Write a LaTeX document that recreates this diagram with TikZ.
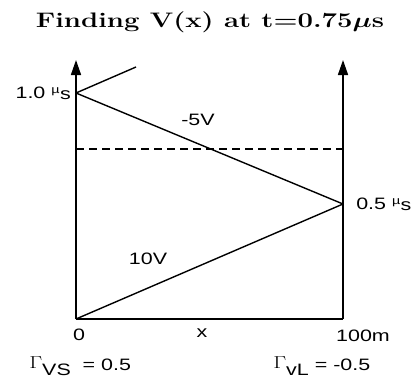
\documentclass[tikz,border=0pt]{standalone}
\usepackage{amsmath,amssymb}
\usepackage{fontspec}
\setsansfont{Liberation Sans}
\newfontfamily\timesfont{Liberation Serif}
\usetikzlibrary{arrows.meta}

\newcommand{\mus}{{\raisebox{0.5ex}{\fontsize{11}{12}\selectfont µ}\kern0.3pt\raisebox{-1pt}{s}}}

\begin{document}
\begin{tikzpicture}[x=1pt,y=-1pt,>={Triangle[length=15pt,width=10pt]},line join=round,
  lbl/.style={font=\sffamily\fontsize{16.5}{18}\selectfont,inner sep=0pt,xscale=1.3,transform shape}]
  \useasboundingbox (0,0) rectangle (412,383);
  \coordinate (O) at (76,319);
  \coordinate (L) at (343,319);
  \coordinate (OT) at (76,60);
  \coordinate (LT) at (343,60);
  \coordinate (T1) at (76,93);
  \coordinate (T2) at (343,204);
  \coordinate (R1) at (136,67);
  \coordinate (D0) at (76,149);
  \coordinate (D1) at (343,149);
  % axes
  \draw[line width=1.6pt,->] (O) -- (OT);
  \draw[line width=1.6pt,->] (L) -- (LT);
  \draw[line width=1.6pt] (O) -- (L);
  % bounce lines
  \draw[line width=1.4pt] (O) -- (T2);
  \draw[line width=1.4pt] (T2) -- (T1);
  \draw[line width=1.4pt] (T1) -- (R1);
  \draw[line width=1.4pt,dash pattern=on 8pt off 5pt] (D0) -- (D1);
  % labels
  \node[font=\bfseries\fontsize{21}{24}\selectfont,xscale=1.31,transform shape] (title) at (210,22) {Finding V(x) at t=0.75$\boldsymbol{\mu}$s};
  \node[lbl,anchor=east] (t1) at (71,93) {1.0 \mus};
  \node[lbl,anchor=west] (t2) at (356,204) {0.5 \mus};
  \node[lbl] (v1) at (148,259) {10V};
  \node[lbl] (v2) at (198,120) {-5V};
  \node[lbl] (x0) at (79,335) {0};
  \node[lbl] (xx) at (202,333) {x};
  \node[lbl] (xl) at (363,336) {100m};
  \node[lbl,anchor=west] (gs) at (29,366) {{\timesfont\fontsize{18}{20}\selectfont\raisebox{2pt}{$\Gamma$}}\raisebox{-5pt}{VS}\ \ = 0.5};
  \node[lbl,anchor=west] (gl) at (273,366) {{\timesfont\fontsize{18}{20}\selectfont\raisebox{2pt}{$\Gamma$}}\raisebox{-5pt}{vL}\ = -0.5};
\end{tikzpicture}
\end{document}
